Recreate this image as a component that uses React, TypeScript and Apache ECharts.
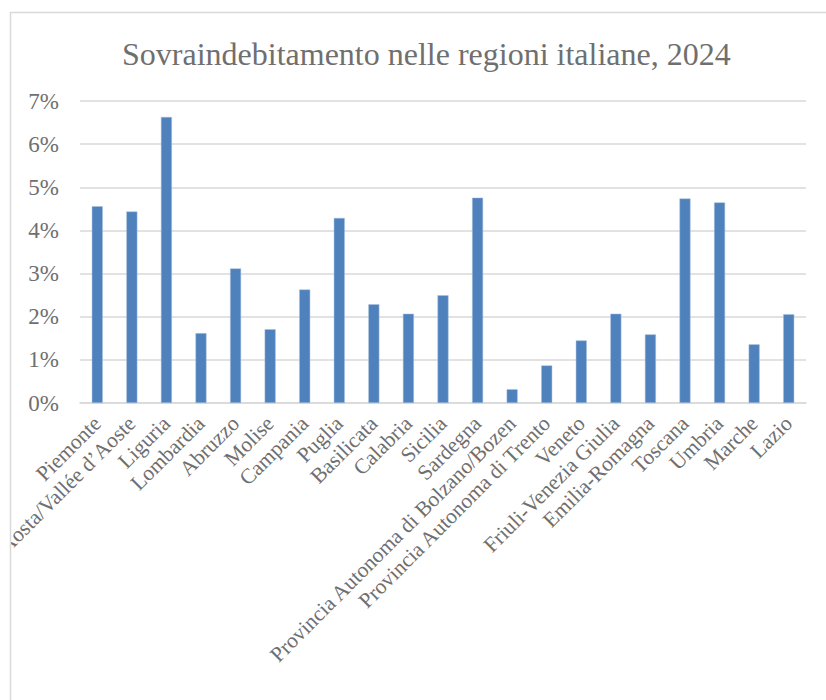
import React, { useEffect, useRef } from "react";
import * as echarts from "echarts";

const categories = [
  "Piemonte",
  "Valle d\u2019Aosta/Vall\u00e9e d\u2019Aoste",
  "Liguria",
  "Lombardia",
  "Abruzzo",
  "Molise",
  "Campania",
  "Puglia",
  "Basilicata",
  "Calabria",
  "Sicilia",
  "Sardegna",
  "Provincia Autonoma di Bolzano/Bozen",
  "Provincia Autonoma di Trento",
  "Veneto",
  "Friuli-Venezia Giulia",
  "Emilia-Romagna",
  "Toscana",
  "Umbria",
  "Marche",
  "Lazio",
];

const values = [
  4.56, 4.44, 6.63, 1.62, 3.12, 1.71, 2.63, 4.29, 2.29, 2.07, 2.5, 4.76, 0.32,
  0.87, 1.45, 2.07, 1.59, 4.74, 4.65, 1.36, 2.06,
];

const yTicks = [0, 1, 2, 3, 4, 5, 6, 7];
const titleText = "Sovraindebitamento nelle regioni italiane, 2024";

export default function App() {
  const ref = useRef<HTMLDivElement>(null);
  useEffect(() => {
    if (!ref.current) return;
    const chart = echarts.init(ref.current, undefined, { renderer: "svg" });
    const font = "'Liberation Serif', 'Times New Roman', serif";
    const textColor = "#6f6f6f";
    chart.setOption({
      animation: false,
      backgroundColor: "#ffffff",
      title: {
        text: titleText,
        left: 117,
        top: 33,
        textStyle: {
          fontFamily: font,
          fontSize: 32,
          fontWeight: "normal",
          color: textColor,
        },
      },
      graphic: [
        {
          type: "rect",
          shape: { x: 0, y: 0, width: 10, height: 700 },
          style: { fill: "#ffffff" },
          silent: true,
          z: 100,
        },
        {
          type: "rect",
          shape: { x: 10.5, y: 12.5, width: 900, height: 800 },
          style: { fill: "none", stroke: "#d9d9d9", lineWidth: 1.5 },
          silent: true,
          z: 101,
        },
      ],
      grid: {
        left: 80,
        right: 20,
        top: 101,
        bottom: 297,
        containLabel: false,
        outerBoundsMode: "none",
      },
      xAxis: {
        type: "category",
        data: categories,
        axisTick: { show: false },
        axisLine: { show: true, lineStyle: { color: "#d9d9d9", width: 1.5 } },
        axisLabel: {
          rotate: 45,
          interval: 0,
          margin: 17,
          fontFamily: font,
          fontSize: 21.5,
          color: textColor,
        },
      },
      yAxis: {
        type: "value",
        min: 0,
        max: 7,
        interval: 1,
        axisLine: { show: false },
        axisTick: { show: false },
        splitLine: { lineStyle: { color: "#d9d9d9", width: 1.5 } },
        axisLabel: {
          formatter: (v: number) => (yTicks.includes(v) ? v + "%" : ""),
          fontFamily: font,
          fontSize: 23,
          color: textColor,
          margin: 21,
        },
      },
      series: [
        {
          type: "bar",
          data: values,
          barWidth: 11,
          itemStyle: { color: "#4f81bd", borderColor: "#a9c0de", borderWidth: 0.5 },
        },
      ],
    });
    return () => chart.dispose();
  }, []);
  return (
    <div
      ref={ref}
      style={{ position: "fixed", left: 0, top: 0, width: 826, height: 700 }}
    />
  );
}
